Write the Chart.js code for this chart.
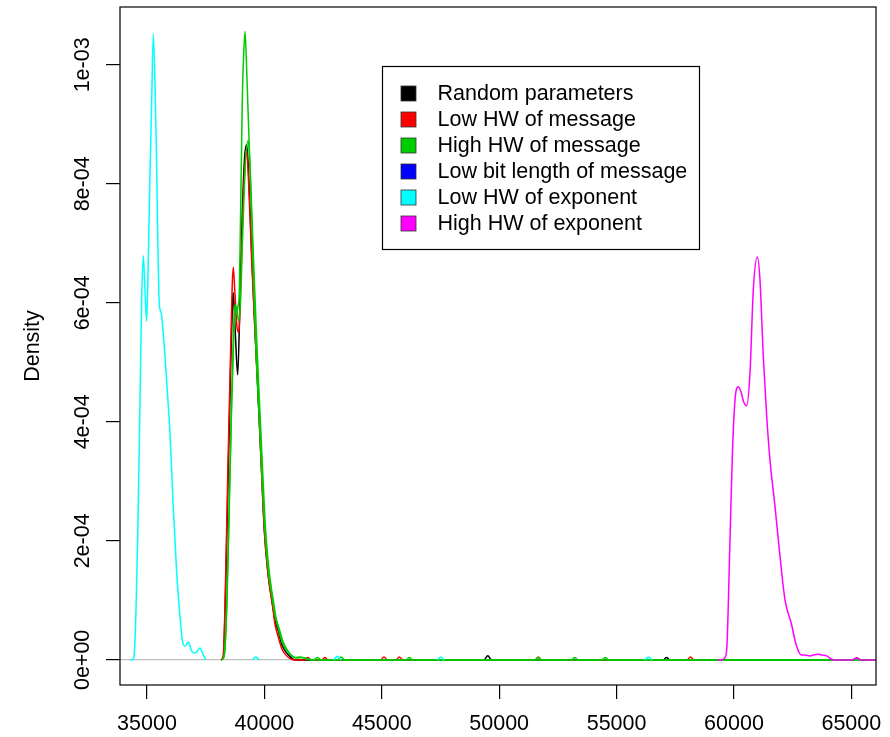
<!DOCTYPE html>
<html><head><meta charset="utf-8">
<script src="https://cdn.jsdelivr.net/npm/chart.js@4.4.1/dist/chart.umd.min.js"></script>
<style>html,body{margin:0;padding:0;background:#fff}#wrap{width:890px;height:737px;position:relative}</style>
</head><body><div id="wrap"><canvas id="c"></canvas></div>
<script>
// ---- data (density in units of 1e-4) ----
const UNIT = 1e-4;
const seriesNames = ['Random parameters','Low HW of message','High HW of message','Low bit length of message','Low HW of exponent','High HW of exponent'];
const lineColors = ['#000000','#FF0000','#00CD00','#00CD00','#00FFFF','#FF00FF'];
const legendColors = ['#000000','#FF0000','#00CD00','#0000FF','#00FFFF','#FF00FF'];

const xTickValues = [35000,40000,45000,50000,55000,60000,65000];
const xTickLabels = ['35000','40000','45000','50000','55000','60000','65000'];
const yTickValues = [0,2e-4,4e-4,6e-4,8e-4,1e-3];
const yTickLabels = ['0e+00','2e-04','4e-04','6e-04','8e-04','1e-03'];
const xRange = [33850, 66050];
const yRange = [-4.22e-5, 1.0972e-3];

const blackX = [38150,38250,38350,38450,38550,38650,38676,38760,38863,38960,39050,39150,39246,39340,39470,39600,39700,39850,40000,40150,40250,40350,40450,40580,40750,40920,41100,41300,42000,49350,49515,49680,56980,57130,57280,65050,65227,65400,66050];
const blackY = [0,0.05,1.2,3.0,4.7,6.05,6.17,5.5,4.79,6.05,7.4,8.4,8.66,8.07,6.72,5.55,4.7,3.45,2.18,1.48,1.18,0.92,0.67,0.50,0.25,0.13,0.05,0,0,0,0.07,0,0,0.04,0,0,0.03,0,0];

const redX = [38150,38250,38350,38450,38550,38630,38676,38740,38830,38918,38990,39080,39170,39246,39330,39460,39600,39720,39850,40000,40150,40250,40350,40450,40580,40750,40920,41100,41250,41700,41850,42000,42150,42450,42580,42710,44950,45094,45240,45600,45750,45900,51520,51666,51810,58000,58150,58300,58600];
const redY = [0,0.08,1.4,3.3,5.0,6.3,6.6,6.2,5.6,5.5,6.3,7.5,8.3,8.57,8.0,6.7,5.5,4.6,3.4,2.15,1.45,1.15,0.9,0.6,0.4,0.18,0.08,0.02,0,0,0.04,0,0,0,0.04,0,0,0.05,0,0,0.05,0,0,0.05,0,0,0.05,0,0];

const greenX = [38200,38300,38400,38500,38600,38690,38748,38820,38880,38932,38990,39059,39120,39174,39230,39289,39400,39520,39640,39740,39870,40000,40150,40250,40350,40450,40580,40750,40920,41100,41300,41500,41700,42100,42260,42420,43120,43270,43420,46030,46175,46320,51520,51666,51810,53070,53216,53360,54370,54520,54670,66050];
const greenY = [0,0.1,1.0,2.6,4.3,5.6,5.97,5.85,5.95,6.2,7.6,9.41,10.2,10.56,10.1,9.41,8.1,6.6,5.2,4.37,3.3,2.3,1.55,1.25,1.0,0.75,0.55,0.30,0.18,0.09,0.04,0.05,0.03,0,0.04,0,0,0.05,0,0,0.04,0,0,0.04,0,0,0.04,0,0,0.04,0,0];

const lowBitX = [38200,38300,38400,38500,38600,38700,38790,38900,38980,39080,39200,39314,39400,39520,39650,39760,39900,40050,40200,40300,40400,40500,40650,40800,41000,41200,41400,41600,41800,42000,66050];
const lowBitY = [0,0.1,0.9,2.5,4.2,5.5,5.95,5.7,6.0,7.2,8.4,8.73,8.2,6.9,5.6,4.6,3.4,2.2,1.5,1.2,0.95,0.7,0.5,0.3,0.15,0.06,0.03,0.04,0.02,0,0];

const cyanX = [34300,34391,34480,34617,34700,34770,34842,34915,34987,35063,35128,35200,35268,35383,35524,35600,35694,35839,35980,36120,36265,36405,36503,36618,36760,36900,37044,37150,37257,37400,37513,37600,39480,39630,39780,39900,42960,43110,43260,43400,47360,47508,47650,47800,56210,56360,56510];
const cyanY = [0,0,0.25,2.34,4.3,6.0,6.79,6.2,5.69,6.9,8.17,9.4,10.52,8.9,5.98,5.84,5.48,4.67,3.8,2.55,1.46,0.73,0.33,0.23,0.30,0.15,0.11,0.15,0.20,0.08,0,null,0,0.05,0,null,0,0.06,0,null,0,0.05,0,null,0,0.05,0];

const magentaX = [59300,59477,59600,59690,59830,59930,60045,60184,60300,60420,60542,60683,60824,60995,61108,61250,61395,61534,61748,61961,62174,62438,62651,62864,63050,63238,63420,63592,63780,63950,64163,64300,65050,65227,65400,66050];
const magentaY = [0,0,0.03,0.17,2.0,3.42,4.37,4.59,4.5,4.33,4.27,4.82,6.22,6.77,6.39,5.1,4.09,3.36,2.58,1.74,1.01,0.62,0.25,0.084,0.08,0.067,0.085,0.095,0.08,0.067,0.01,0,0,0.03,0,0];

const seriesX = [blackX, redX, greenX, lowBitX, cyanX, magentaX];
const seriesY = [blackY, redY, greenY, lowBitY, cyanY, magentaY];
const drawOrder = [5,4,2,3,1,0];

// ---- chart ----
const FONT = '"Liberation Sans", Arial, Helvetica, sans-serif';
Chart.defaults.font.family = FONT;
Chart.defaults.color = '#000';

const datasets = seriesNames.map((name, i) => ({
  label: name,
  data: seriesX[i].map((x, k) => ({x: x, y: seriesY[i][k] === null ? null : seriesY[i][k] * UNIT})),
  borderColor: lineColors[i],
  backgroundColor: lineColors[i],
  borderWidth: 1.5,
  pointRadius: 0,
  fill: false,
  spanGaps: false,
  cubicInterpolationMode: 'monotone',
  order: drawOrder[i]
}));

const decor = {
  id: 'decor',
  afterDraw(chart) {
    const ctx = chart.ctx, ca = chart.chartArea, ys = chart.scales.y;
    ctx.save();
    // frame
    ctx.strokeStyle = '#000'; ctx.lineWidth = 1.2;
    ctx.strokeRect(ca.left, ca.top, ca.right - ca.left, ca.bottom - ca.top);
    // y tick labels (rotated)
    ctx.fillStyle = '#000';
    ctx.font = '21.5px ' + FONT;
    ctx.textAlign = 'center'; ctx.textBaseline = 'alphabetic';
    yTickValues.forEach((v, i) => {
      const py = ys.getPixelForValue(v);
      ctx.save(); ctx.translate(89, py); ctx.rotate(-Math.PI / 2);
      ctx.fillText(yTickLabels[i], 0, 0); ctx.restore();
    });
    // axis title
    ctx.save(); ctx.translate(38.5, (ca.top + ca.bottom) / 2); ctx.rotate(-Math.PI / 2);
    ctx.fillText('Density', 0, 0); ctx.restore();
    // legend
    const L = {x: 382.5, y: 66.5, w: 317, h: 183, sqX: 401, sq: 15, textX: 437.5, row0: 93.5, rowH: 26};
    ctx.fillStyle = '#fff'; ctx.fillRect(L.x, L.y, L.w, L.h);
    ctx.strokeStyle = '#000'; ctx.lineWidth = 1.2; ctx.strokeRect(L.x, L.y, L.w, L.h);
    ctx.textAlign = 'left'; ctx.textBaseline = 'middle';
    seriesNames.forEach((name, i) => {
      const cy = L.row0 + i * L.rowH;
      ctx.fillStyle = legendColors[i];
      ctx.fillRect(L.sqX, cy - L.sq / 2, L.sq, L.sq);
      ctx.strokeStyle = '#333'; ctx.lineWidth = 0.8;
      ctx.strokeRect(L.sqX, cy - L.sq / 2, L.sq, L.sq);
      ctx.fillStyle = '#000';
      ctx.fillText(name, L.textX, cy + 1);
    });
    ctx.restore();
  }
};

new Chart(document.getElementById('c'), {
  type: 'line',
  data: {datasets},
  options: {
    responsive: true, maintainAspectRatio: false, animation: false,
    layout: {padding: {top: 7, right: 14, left: 0, bottom: 0}},
    plugins: {legend: {display: false}, tooltip: {enabled: false}, title: {display: false}},
    scales: {
      x: {
        type: 'linear', min: xRange[0], max: xRange[1],
        afterBuildTicks: s => { s.ticks = xTickValues.map(v => ({value: v})); },
        afterFit: s => { s.height = 52; s.paddingLeft = 0; s.paddingRight = 0; },
        border: {display: false},
        grid: {display: true, drawOnChartArea: false, drawTicks: true, tickLength: 14, color: '#000', lineWidth: 1.2},
        ticks: {autoSkip: false, maxRotation: 0, minRotation: 0, padding: 12, font: {size: 21.5},
          callback: v => { const i = xTickValues.indexOf(v); return i >= 0 ? xTickLabels[i] : ''; }}
      },
      y: {
        type: 'linear', min: yRange[0], max: yRange[1],
        afterBuildTicks: s => { s.ticks = yTickValues.map(v => ({value: v})); },
        afterFit: s => { s.width = 120; s.paddingTop = 0; s.paddingBottom = 0; },
        border: {display: false},
        grid: {display: true, drawOnChartArea: true, drawTicks: true, tickLength: 14,
          color: c => (c.tick && c.tick.value === 0) ? '#BEBEBE' : 'rgba(0,0,0,0)',
          tickColor: '#000', lineWidth: 1.2},
        ticks: {display: false}
      }
    }
  },
  plugins: [decor]
});
</script>
</body></html>
